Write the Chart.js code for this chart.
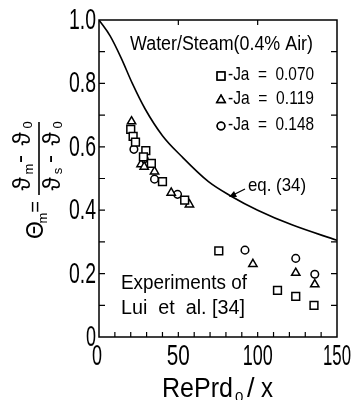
<!DOCTYPE html>
<html>
<head>
<meta charset="utf-8">
<script src="https://cdn.jsdelivr.net/npm/chart.js@4.4.1/dist/chart.umd.min.js"></script>
<style>
  html, body { margin: 0; padding: 0; background: #fff; }
  #wrap { width: 355px; height: 400px; }
</style>
</head>
<body>
<div id="wrap"><canvas id="chart" width="355" height="400"></canvas></div>
<script>
// data
const ja070 = [[20, 0.655], [21.5, 0.633], [23, 0.615], [29.5, 0.588], [28, 0.568], [33, 0.548],
               [40, 0.49], [54, 0.432], [75.5, 0.272], [112.5, 0.147], [124, 0.128], [135.5, 0.10]];
const ja119 = [[20.5, 0.68], [26.5, 0.545], [28.5, 0.537], [35, 0.522], [45.5, 0.455], [57, 0.418],
               [97, 0.23], [124, 0.202], [136, 0.166]];
const ja148 = [[22, 0.592], [28.5, 0.562], [35, 0.498], [49.5, 0.45], [92, 0.274], [124, 0.248], [136, 0.198]];
const eq34X = [0, 7, 14, 21, 29, 40, 52, 69, 83, 100, 122, 150];
const eq34Y = [1.0, 0.95, 0.88, 0.8, 0.72, 0.635, 0.57, 0.49, 0.445, 0.4, 0.353, 0.305];
const xTicks = [0, 50, 100, 150];
const xTickLabels = ['0', '50', '100', '150'];
const yTicks = [0, 0.2, 0.4, 0.6, 0.8, 1.0];
const yTickLabels = ['0', '0.2', '0.4', '0.6', '0.8', '1.0'];
const legendLabels = ['-Ja  =  0.070', '-Ja  =  0.119', '-Ja  =  0.148'];

const FONT = '"Liberation Sans", sans-serif';

const toPts = arr => arr.map(p => ({ x: p[0], y: p[1] }));

const markerStyles = [
    { pointStyle: 'rect', radius: 5.5 },
    { pointStyle: 'triangle', radius: 4.8 },
    { pointStyle: 'circle', radius: 3.8 }
];

// narrow text: squeeze to the width seen in the figure
function squeeze(ctx, text, x, y, w) {
    const m = ctx.measureText(text).width;
    ctx.fillText(text, x, y, Math.min(m, w));
}

const framePlugin = {
    id: 'frame',
    afterDraw(chart) {
        const ctx = chart.ctx;
        const xs = chart.scales.x, ys = chart.scales.y;
        const a = chart.chartArea;
        ctx.save();
        ctx.strokeStyle = '#000';
        ctx.lineWidth = 1.5;
        ctx.strokeRect(a.left, a.top, a.right - a.left, a.bottom - a.top);

        // inward ticks
        ctx.lineWidth = 1.2;
        ctx.beginPath();
        for (let v = 10; v < 150; v += 10) {
            const px = xs.getPixelForValue(v);
            ctx.moveTo(px, a.bottom); ctx.lineTo(px, a.bottom - 5);
        }
        [50, 100].forEach(v => {
            const px = xs.getPixelForValue(v);
            ctx.moveTo(px, a.top); ctx.lineTo(px, a.top + 5);
        });
        for (let i = 1; i < 10; i++) {
            const py = ys.getPixelForValue(i / 10);
            ctx.moveTo(a.left, py); ctx.lineTo(a.left + 6, py);
            ctx.moveTo(a.right, py); ctx.lineTo(a.right - 6, py);
        }
        ctx.stroke();

        ctx.fillStyle = '#000';

        // tick labels (condensed face like the figure)
        ctx.font = '29px ' + FONT;
        ctx.textBaseline = 'middle';
        ctx.textAlign = 'center';
        const xw = [10, 23, 30, 28];
        xTicks.forEach((v, i) => {
            squeeze(ctx, xTickLabels[i], xs.getPixelForValue(v) - (i === 0 ? 2 : 0), 357, xw[i]);
        });
        ctx.textAlign = 'right';
        yTicks.forEach((v, i) => {
            squeeze(ctx, yTickLabels[i], a.left - 3, ys.getPixelForValue(v) + 1, i === 0 ? 10 : 27);
        });

        ctx.textAlign = 'left';
        // title inside
        ctx.font = '20px ' + FONT;
        squeeze(ctx, 'Water/Steam(0.4% Air)', 130, 44, 183);

        // legend
        ctx.font = '19px ' + FONT;
        const rows = [75, 99, 125];
        legendLabels.forEach((t, i) => {
            ctx.lineWidth = 1.5;
            ctx.strokeStyle = '#000';
            ctx.fillStyle = '#fff';
            Chart.helpers.drawPoint(ctx, { pointStyle: markerStyles[i].pointStyle, radius: markerStyles[i].radius, rotation: 0, borderWidth: 1.5 }, 221, rows[i] + 1);
            ctx.fill();
            ctx.stroke();
            ctx.fillStyle = '#000';
            squeeze(ctx, t, 228, rows[i], 86);
        });

        // eq. (34) note and arrow
        ctx.font = '19px ' + FONT;
        squeeze(ctx, 'eq. (34)', 248, 186, 58);
        ctx.beginPath();
        ctx.lineWidth = 1.3;
        ctx.moveTo(245, 189); ctx.lineTo(231, 196);
        ctx.stroke();
        ctx.beginPath();
        ctx.moveTo(229, 197); ctx.lineTo(234, 191); ctx.lineTo(237, 197); ctx.closePath();
        ctx.fill();

        // experiments note
        ctx.font = '20px ' + FONT;
        squeeze(ctx, 'Experiments of', 121, 283, 126);
        squeeze(ctx, 'Lui  et  al. [34]', 121, 308, 124);

        // x-axis title
        ctx.font = '27px ' + FONT;
        ctx.textBaseline = 'alphabetic';
        squeeze(ctx, 'RePrd', 162, 397, 71);
        ctx.font = '15px ' + FONT;
        ctx.fillText('0', 235, 402);
        ctx.font = '27px ' + FONT;
        squeeze(ctx, '/', 247, 397, 11);
        squeeze(ctx, 'x', 261, 397, 12);

        // y-axis title (rotated)
        ctx.translate(37, 184);
        ctx.rotate(-Math.PI / 2);
        ctx.textBaseline = 'middle';
        ctx.textAlign = 'center';
        ctx.font = '23px ' + FONT;
        ctx.fillText('\u0398', -46, 0);
        ctx.font = '13px ' + FONT;
        ctx.fillText('m', -34, 6);
        ctx.font = '20px ' + FONT;
        ctx.fillText('=', -23, -1);
        ctx.lineWidth = 1.6;
        ctx.beginPath();
        ctx.moveTo(-11, 2); ctx.lineTo(62, 2);
        ctx.stroke();
        ctx.font = '24px ' + FONT;
        [-14, 16].forEach(ly => {
            ctx.fillText('\u03D1', 0, ly);
            ctx.fillText('-', 25, ly - 3);
            ctx.fillText('\u03D1', 45, ly);
        });
        ctx.font = '13px ' + FONT;
        ctx.fillText('m', 15, -8);
        ctx.fillText('0', 59, -9);
        ctx.fillText('s', 13, 21);
        ctx.fillText('0', 59, 21);
        ctx.restore();
    }
};

const seriesList = [ja070, ja119, ja148];
const datasets = seriesList.map((s, i) => ({
    type: 'scatter',
    data: toPts(s),
    pointStyle: markerStyles[i].pointStyle,
    pointRadius: markerStyles[i].radius,
    pointBorderWidth: 1.5,
    pointBorderColor: '#000',
    pointBackgroundColor: '#fff',
    showLine: false
}));

datasets.push({
    type: 'line',
    data: eq34X.map((x, i) => ({ x: x, y: eq34Y[i] })),
    borderColor: '#000',
    borderWidth: 1.6,
    pointRadius: 0,
    cubicInterpolationMode: 'monotone',
    fill: false
});

new Chart(document.getElementById('chart').getContext('2d'), {
    type: 'scatter',
    data: { datasets: datasets },
    options: {
        responsive: false,
        animation: false,
        layout: { padding: { top: 20, right: 18, left: 0, bottom: 0 } },
        plugins: { legend: { display: false }, tooltip: { enabled: false } },
        scales: {
            x: {
                type: 'linear', min: 0, max: 150,
                grid: { display: false },
                border: { display: false },
                ticks: { display: false, stepSize: 50 },
                afterFit: s => { s.height = 63; }
            },
            y: {
                type: 'linear', min: 0, max: 1,
                grid: { display: false },
                border: { display: false },
                ticks: { display: false, stepSize: 0.2 },
                afterFit: s => { s.width = 99; }
            }
        }
    },
    plugins: [framePlugin]
});
</script>
</body>
</html>
